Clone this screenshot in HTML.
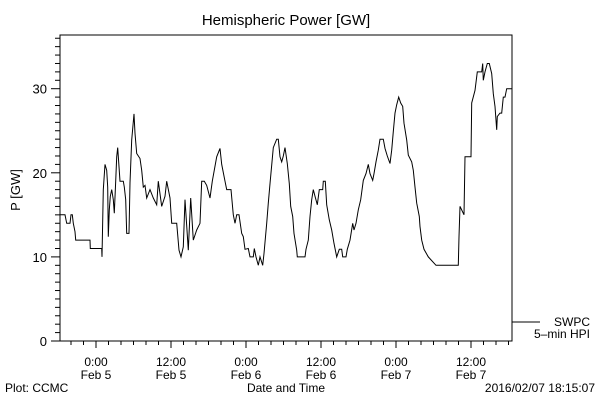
<!DOCTYPE html>
<html><head><meta charset="utf-8"><style>
body{margin:0;background:#fff;}
svg{display:block;font-family:"Liberation Sans",sans-serif;}
</style></head><body>
<svg id="chart" width="600" height="400" viewBox="0 0 600 400">
<rect width="600" height="400" fill="#fff"/>
<text x="286" y="25" font-size="15" text-anchor="middle">Hemispheric Power [GW]</text>
<text transform="translate(20,190) rotate(-90)" font-size="13" text-anchor="middle">P [GW]</text>
<g id="axes"></g>
<path id="series" fill="none" stroke="#000" stroke-width="1"/>
<line x1="512" y1="322" x2="540" y2="322" stroke="#000"/>
<text x="590" y="326" font-size="12" text-anchor="end">SWPC</text>
<text x="590" y="338" font-size="12" text-anchor="end">5–min HPI</text>
<text x="286" y="392" font-size="12" text-anchor="middle">Date and Time</text>
<text x="5" y="392" font-size="12">Plot: CCMC</text>
<text x="595" y="392" font-size="12" text-anchor="end">2016/02/07 18:15:07</text>
</svg>
<script>
const hours=[-5.76,-4.96,-4.69,-4.16,-4.0,-3.79,-3.63,-3.36,-3.25,-0.96,-0.91,0.91,0.96,1.17,1.44,1.71,1.87,1.97,2.13,2.29,2.51,2.77,2.93,3.15,3.31,3.47,3.84,4.37,4.53,4.75,4.91,5.28,5.44,5.71,6.08,6.24,6.51,7.04,7.31,7.57,7.84,8.11,8.64,9.17,9.71,9.97,10.51,11.04,11.31,11.84,12.11,12.91,13.28,13.6,13.97,14.24,14.77,15.15,15.57,16.11,16.64,16.91,17.33,17.71,18.24,18.61,19.31,19.84,20.11,20.64,20.91,21.6,21.97,22.24,22.51,22.88,23.31,23.57,23.84,24.37,24.64,25.17,25.33,25.6,25.97,26.24,26.67,26.88,27.31,27.57,27.84,28.11,28.37,28.91,29.17,29.44,29.71,29.97,30.24,30.61,30.93,31.15,31.47,31.68,32.11,32.21,33.44,33.6,33.97,34.24,34.51,34.77,35.04,35.41,35.73,36.27,36.37,36.69,36.91,37.33,37.71,38.08,38.51,38.93,39.31,39.47,40.0,40.21,40.64,41.07,41.28,41.6,41.97,42.35,42.77,43.2,43.57,43.84,44.27,44.48,44.8,45.17,45.44,45.97,46.24,46.61,47.04,47.31,47.57,47.84,48.11,48.43,48.75,49.07,49.28,49.71,49.97,50.51,50.77,51.04,51.31,51.73,51.84,52.11,52.48,53.17,54.4,57.97,58.08,58.24,58.88,59.04,60.0,60.11,60.64,61.01,61.71,61.87,61.97,62.24,62.61,62.93,63.31,63.57,63.84,64.11,64.21,64.64,64.91,65.17,65.44,65.71,66.6];
const power=[15,15,14,14,15,15,14,13,12,12,11,11,10,18,21,20.3,18.3,12.4,15.6,17.2,18,16.8,15.2,19,21.9,23,19,19,18.3,16.8,12.8,12.8,18.8,23.9,27,24.7,22.3,21.7,20.3,18.3,18.5,17,18,17,16.2,19,16,17.2,19,17,14,14,10.8,10,11.2,16.8,10.8,17,12,13.2,14,19,19,18.5,17,19,21.9,22.9,21,19,18,18,15,14,15,15,12.8,12.4,10.9,11,10,10,11,10,9,10,9,10.4,14,16.4,18.7,20.9,23,24,24,21.9,21.3,22,23,21.1,18.7,16,14.8,12.8,10.8,10,10,10.9,12,14.8,16.8,18,17.2,16.2,18,18,19,19,16.2,14.4,13.2,11.6,10,10.9,10.9,10,10,10.9,12,14,13.2,14,15.6,16.8,19.1,19.9,21,19.9,19.1,19.9,21.3,22.7,24,24,22.9,22,21.1,22.7,24.9,27.1,28.1,29,28.3,27.9,25.9,23.9,22.1,21.3,20.3,18.3,16.4,14.8,13.6,12,10.9,10,9,9,12.4,16,15,21.9,21.9,28.3,29.8,32,32,33,31,32,33,33,31.8,29.4,27.9,25.1,26.7,27.1,27.1,29,29,30,30];
const yTickValues=[0,10,20,30];
const xTickHours=[0,12,24,36,48,60];
const xTickTimes=["0:00","12:00","0:00","12:00","0:00","12:00"];
const xTickDates=["Feb 5","Feb 5","Feb 6","Feb 6","Feb 7","Feb 7"];

const L=60,R=512,T=35,B=341;
const xScale=h=>96+h*6.25;
const yScale=v=>B-v*8.41;
const NS="http://www.w3.org/2000/svg";
const ax=document.getElementById('axes');
function mk(tag,attrs){const e=document.createElementNS(NS,tag);for(const k in attrs)e.setAttribute(k,attrs[k]);ax.appendChild(e);return e;}

const frame=mk('rect',{x:L,y:T,width:R-L,height:B-T,fill:'none',stroke:'#000','stroke-width':1});



for(let v=0;v<=36;v++){
  const y=yScale(v);const major=v%10===0;
  const t=mk('line',{x1:L-(major?9:5),x2:L,y1:y,y2:y,stroke:'#000'});
  
  
}
yTickValues.forEach(v=>{
  const t=mk('text',{x:L-13,y:yScale(v)+5,'font-size':13,'text-anchor':'end'});
  t.textContent=v;
  
  
});
for(let h=-4;h<=66;h+=2){
  const x=xScale(h);const major=h%12===0;
  const t=mk('line',{x1:x,x2:x,y1:B,y2:B+(major?7:4),stroke:'#000'});
  
  
}
xTickHours.forEach((h,i)=>{
  const x=xScale(h);
  const a=mk('text',{x:x,y:366,'font-size':12,'text-anchor':'middle'});
  a.textContent=xTickTimes[i];
  
  
  const b=mk('text',{x:x,y:379,'font-size':12,'text-anchor':'middle'});
  b.textContent=xTickDates[i];
  
  
});
let d='';
hours.forEach((h,i)=>{d+=(i?'L':'M')+xScale(h).toFixed(1)+' '+yScale(power[i]).toFixed(1);});
document.getElementById('series').setAttribute('d',d);
</script>
</body></html>
